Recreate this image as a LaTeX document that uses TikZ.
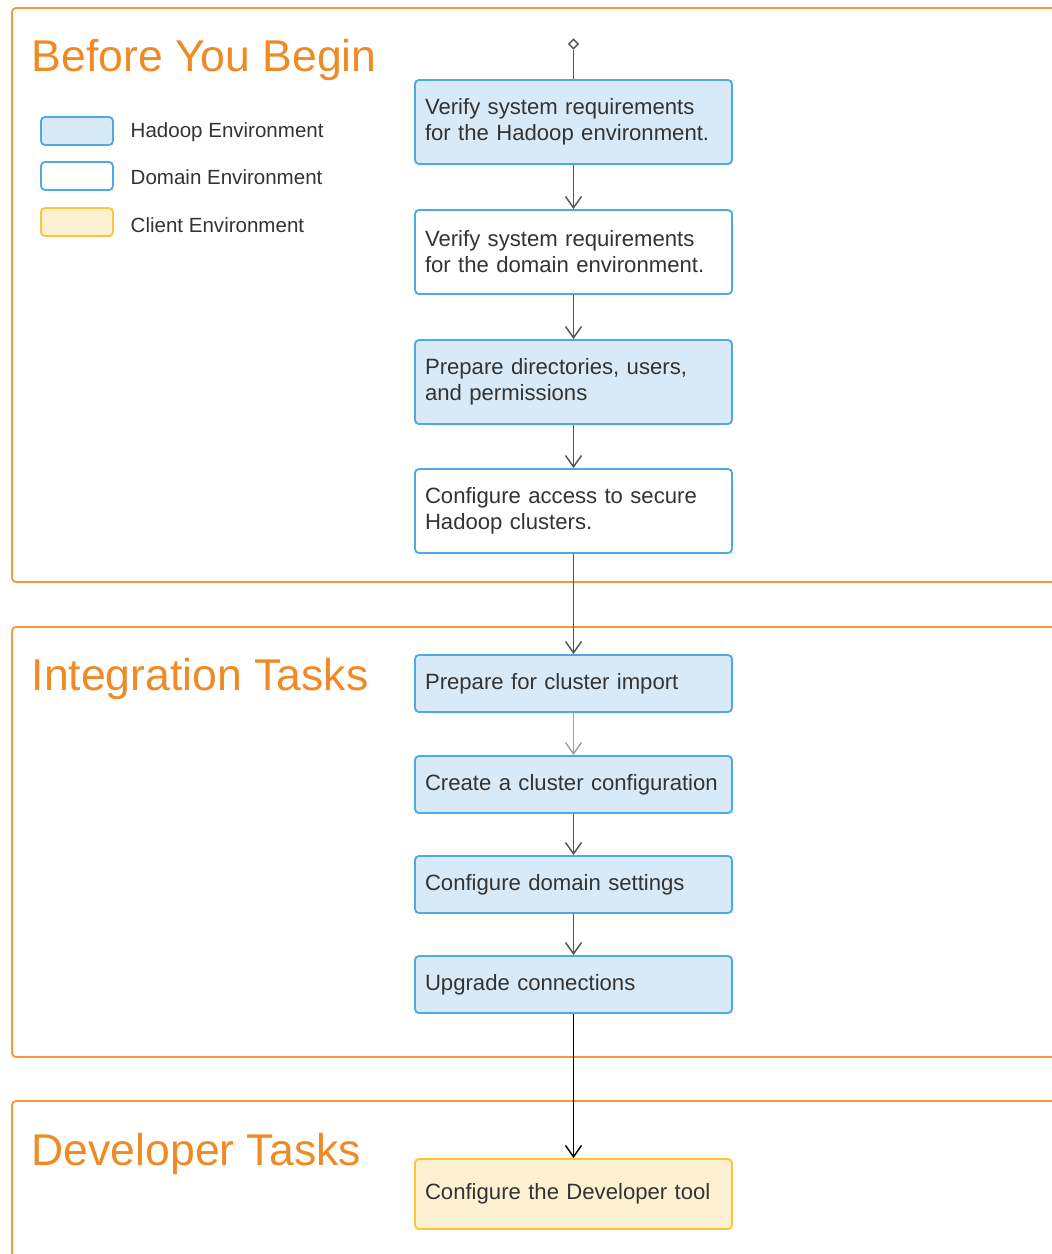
\documentclass[tikz,border=0pt]{standalone}
\usepackage{fontspec}
\setmainfont{Liberation Sans}
\usetikzlibrary{arrows.meta,shapes.geometric}
\definecolor{panelorange}{HTML}{F39A3A}
\definecolor{titleorange}{HTML}{F08A24}
\definecolor{taskblue}{HTML}{4DAAE2}
\definecolor{hadoopfill}{HTML}{D8EAF7}
\definecolor{clientline}{HTML}{FFC53A}
\definecolor{clientfill}{HTML}{FDF1D2}
\definecolor{flowgray}{HTML}{555555}
\definecolor{textgray}{HTML}{333333}
\begin{document}
\begin{tikzpicture}[x=0.75pt,y=-0.75pt,
        panel/.style={draw=panelorange, line width=1.4pt, rounded corners=3pt},
        title/.style={anchor=west, text=titleorange, font=\fontsize{33.4}{40}\selectfont},
        task/.style={draw=taskblue, line width=1.4pt, rounded corners=3pt, minimum width=237.75pt,
            text width=222.75pt, inner xsep=7.5pt, align=left, text=textgray,
            font=\fontsize{16.6}{19.5}\selectfont},
        hadoopbox/.style={task, fill=hadoopfill},
        domainbox/.style={task, fill=white},
        clientbox/.style={task, draw=clientline, fill=clientfill},
        legbox/.style={draw=#1, line width=1.4pt, rounded corners=3pt, minimum width=54pt, minimum height=21pt},
        legtext/.style={anchor=west, text=textgray, font=\fontsize{15.4}{18}\selectfont},
        flow/.style={draw=flowgray, line width=1.1pt, -{Straight Barb[length=8.5pt,width=12pt]}},
    ]
    \useasboundingbox (0,0) rectangle (1052,1254);
    \begin{scope}
    \clip (0,0) rectangle (1052,1254);
	\draw[panel] (12,8) rectangle (1080,582);
	\draw[panel] (12,627) rectangle (1080,1057);
	\draw[panel] (12,1101) rectangle (1080,1290);
    \end{scope}

	\node[title] (t_begin) at (27,60) {Before You Begin};
	\node[title] (t_integ) at (27,679) {Integration Tasks};
	\node[title] (t_dev) at (27,1154) {Developer Tasks};

    % legend
	\node[legbox=taskblue, fill=hadoopfill] (l_hadoop) at (77,131) {};
	\node[legbox=taskblue, fill=white] (l_domain) at (77,176) {};
	\node[legbox=clientline, fill=clientfill] (l_client) at (77,222) {};
	\node[legtext] (lt_hadoop) at (126,132) {Hadoop Environment};
	\node[legtext] (lt_domain) at (126,177) {Domain Environment};
	\node[legtext] (lt_client) at (126,225) {Client Environment};

	\node[diamond, draw=flowgray, line width=1.1pt, fill=white, inner sep=0pt, minimum size=7.5pt] (start) at (573.5,44) {};

	\node[hadoopbox, minimum height=63pt] (b_1) at (573.5,122) {Verify system requirements\\for the Hadoop environment.};
	\node[domainbox, minimum height=63pt] (b_2) at (573.5,252) {Verify system requirements\\for the domain environment.};
	\node[hadoopbox, minimum height=63pt] (b_3) at (573.5,382) {Prepare directories, users,\\and permissions};
	\node[domainbox, minimum height=63pt] (b_4) at (573.5,511) {Configure access to secure\\Hadoop clusters.};
	\node[hadoopbox, minimum height=42.75pt] (b_5) at (573.5,683.5) {Prepare for cluster import};
	\node[hadoopbox, minimum height=42.75pt] (b_6) at (573.5,784.5) {Create a cluster configuration};
	\node[hadoopbox, minimum height=42.75pt] (b_7) at (573.5,884.5) {Configure domain settings};
	\node[hadoopbox, minimum height=42.75pt] (b_8) at (573.5,984.5) {Upgrade connections};
	\node[clientbox, minimum height=52.5pt] (b_9) at (573.5,1194) {Configure the Developer tool};

	\draw[flowgray, line width=1.1pt] (start) -- (b_1);
	\draw[flow] (b_1) -- (b_2);
	\draw[flow] (b_2) -- (b_3);
	\draw[flow] (b_3) -- (b_4);
	\draw[flow] (b_4) -- (b_5);
	\draw[flow, draw=flowgray!55] (b_5) -- (b_6);
	\draw[flow] (b_6) -- (b_7);
	\draw[flow] (b_7) -- (b_8);
	\draw[flow, draw=black] (b_8) -- (b_9);

    \end{tikzpicture}
\end{document}
